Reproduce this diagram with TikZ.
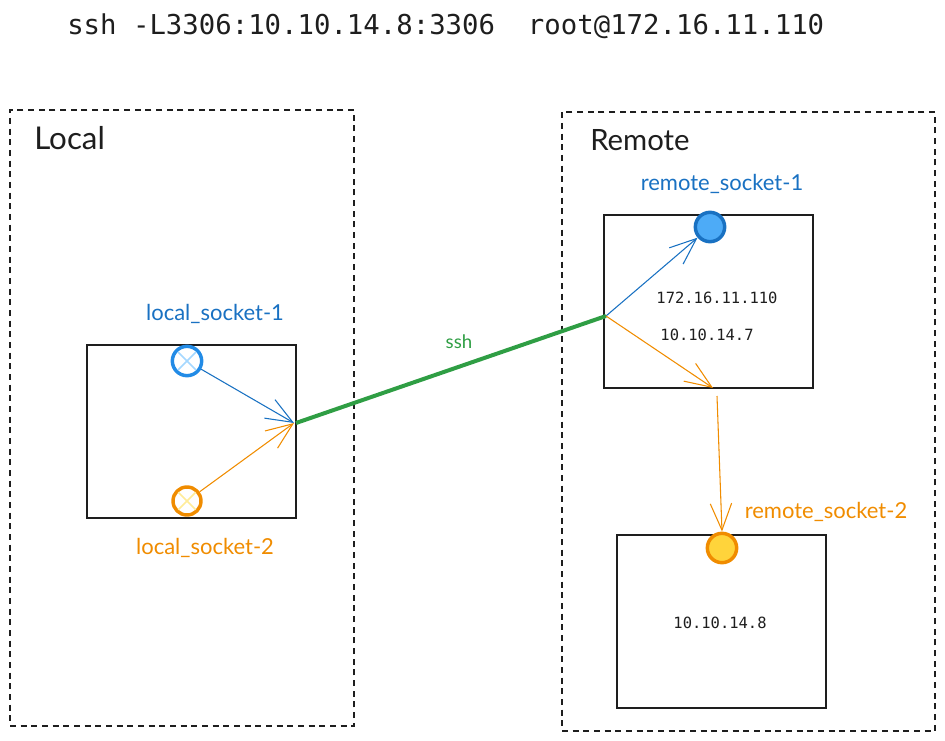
\documentclass[tikz,border=0pt]{standalone}
\usepackage{fontspec}
\setmainfont{Lato}
\newfontfamily\monof{DejaVu Sans Mono}
\usetikzlibrary{arrows.meta,calc}
\definecolor{ink}{HTML}{1E1E1E}
\definecolor{exblue}{HTML}{1971C2}
\definecolor{exblue2}{HTML}{228BE6}
\definecolor{exlblue}{HTML}{A5D8FF}
\definecolor{exfblue}{HTML}{4DABF7}
\definecolor{exorange}{HTML}{F08C00}
\definecolor{exyellow}{HTML}{FFD43B}
\definecolor{exlyellow}{HTML}{FFEC99}
\definecolor{exgreen}{HTML}{2F9E44}
\tikzset{
  hostbox/.style={draw=ink, line width=1.8pt, minimum width=156.75pt, minimum height=129.75pt, inner sep=0pt, outer sep=0pt},
  zonebox/.style={draw=ink, dash pattern=on 4.5pt off 3.5pt, line width=0.9pt, inner sep=0pt, outer sep=0pt},
  sockring/.style={circle, line width=2.6pt, minimum size=22pt, inner sep=0pt},
  lbl/.style={font=\fontsize{16.5}{19}\selectfont, inner sep=0pt},
  ipt/.style={font=\monof\fontsize{11.6}{13}\selectfont, text=ink, inner sep=0pt},
  zonelbl/.style={font=\fontsize{22}{25}\selectfont, text=ink, inner sep=0pt, anchor=west},
  arr/.style={line width=0.8pt, -{Straight Barb[length=20pt,width=16pt,line width=0.8pt]}},
  crossline/.style={line width=1.3pt, shorten <=2.6pt, shorten >=2.6pt},
}
\begin{document}
\begin{tikzpicture}[x=0.75pt,y=-0.75pt]
\useasboundingbox (0,0) rectangle (945,741);
% title
\node[font=\monof\fontsize{20.5}{24}\selectfont, text=ink, anchor=west, inner sep=0pt] (title) at (67,26) {ssh -L3306:10.10.14.8:3306\ \ root@172.16.11.110};
% zones
\node[zonebox, minimum width=258pt, minimum height=462pt] (localzone) at (182,418) {};
\node[zonebox, minimum width=279.75pt, minimum height=464.25pt] (remotezone) at (748.5,421.5) {};
\node[zonelbl, font=\fontsize{23.5}{26}\selectfont] (locallbl) at (34,138) {Local};
\node[zonelbl] (remotelbl) at (590,140) {Remote};
% hosts
\node[hostbox] (lhost) at (191.5,431.5) {};
\node[hostbox] (rhost1) at (708.5,301.5) {};
\node[hostbox] (rhost2) at (721.5,621.5) {};
\node[ipt] (ip1) at (717,298) {172.16.11.110};
\node[ipt] (ip2) at (707,335) {10.10.14.7};
\node[ipt] (ip3) at (720,623) {10.10.14.8};
% sockets
\node[sockring, draw=exblue2, fill=white] (ls1) at (187,361) {};
\draw[crossline, exlblue] (ls1.45) -- (ls1.225);
\draw[crossline, exlblue] (ls1.135) -- (ls1.315);
\node[sockring, draw=exorange, fill=white, minimum size=21pt] (ls2) at (187,501) {};
\draw[crossline, exlyellow] (ls2.45) -- (ls2.225);
\draw[crossline, exlyellow] (ls2.135) -- (ls2.315);
\node[sockring, draw=exblue, fill=exfblue] (rs1) at (710,227) {};
\node[sockring, draw=exorange, fill=exyellow] (rs2) at (722,548) {};
\node[lbl, text=exblue] (ls1lbl) at (215,314) {local\_socket-1};
\node[lbl, text=exorange] (ls2lbl) at (205,548) {local\_socket-2};
\node[lbl, text=exblue] (rs1lbl) at (722,184) {remote\_socket-1};
\node[lbl, text=exorange] (rs2lbl) at (826,512) {remote\_socket-2};
% junctions
\coordinate (lp) at (294,423);
\coordinate (rp) at (606,316);
\coordinate (rout) at (713,388);
\coordinate (rin) at (717,396);
% connectors
\draw[exgreen, line width=3pt] (lhost.east |- lp) -- (rp);
\node[lbl, text=exgreen, font=\fontsize{14}{16}\selectfont] (sshlbl) at (459,342) {ssh};
\draw[arr, exblue] (ls1) -- (lp);
\draw[arr, exorange] (ls2) -- (lp);
\draw[arr, exblue] (rp) -- (rs1);
\draw[arr, exorange] (rp) -- (rout);
\draw[arr, exorange] (rin) -- (rs2.north);
\end{tikzpicture}
\end{document}
